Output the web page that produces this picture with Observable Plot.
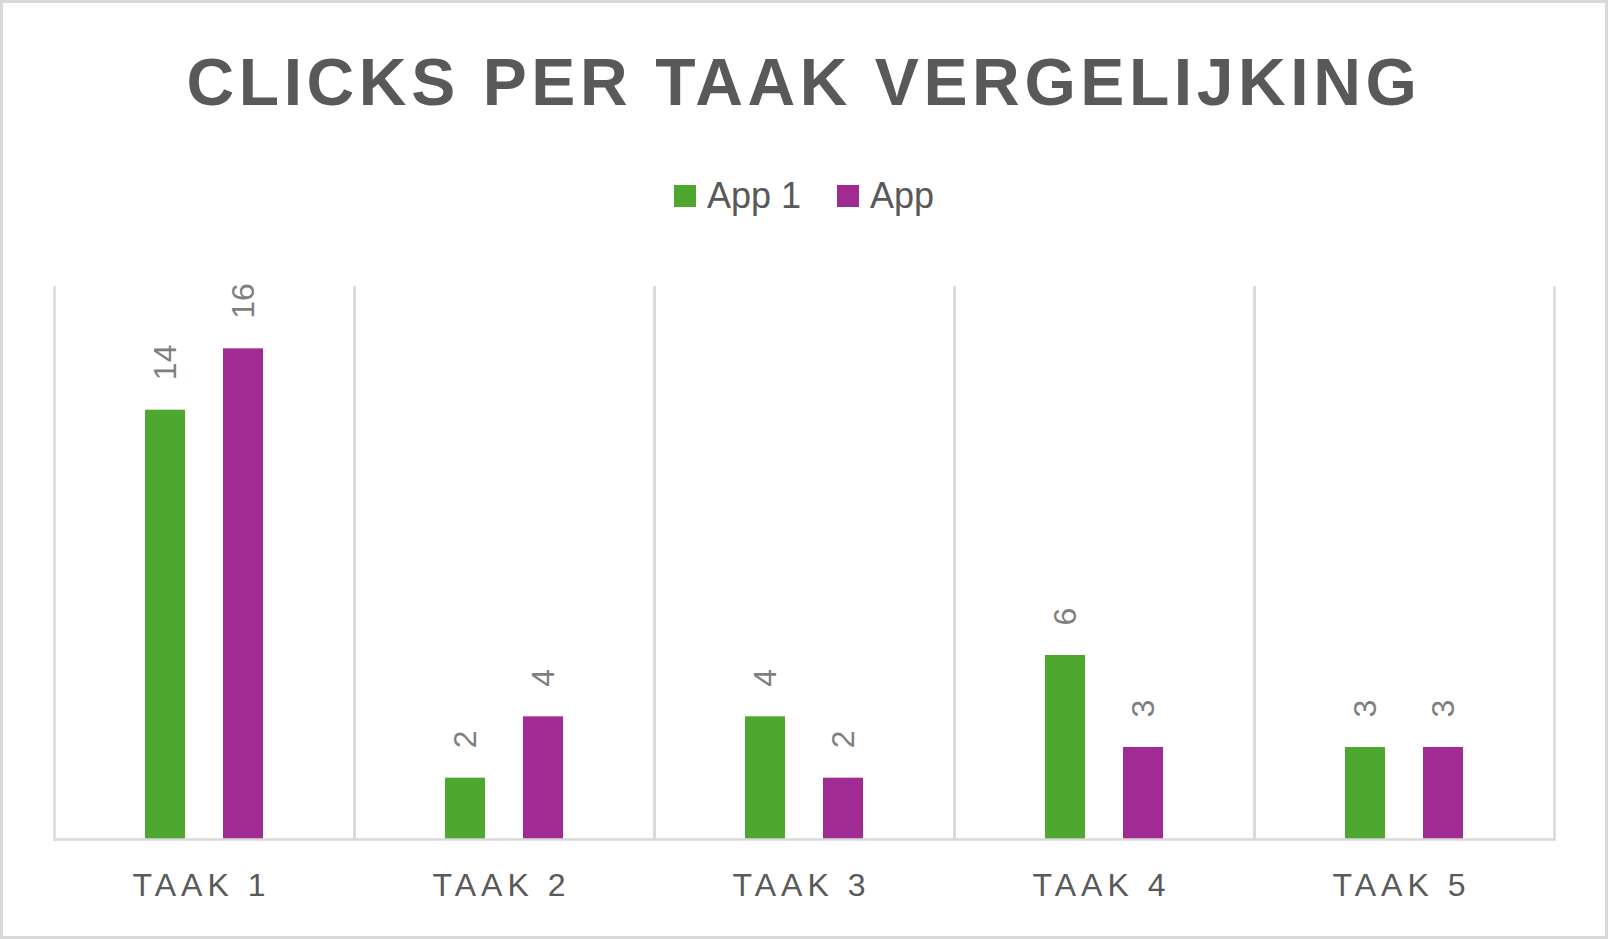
<!DOCTYPE html>
<html><head><meta charset="utf-8">
<script src="https://cdn.jsdelivr.net/npm/d3@7"></script>
<script src="https://cdn.jsdelivr.net/npm/@observablehq/plot@0.6"></script>
<style>
body{margin:0;background:#fff;}
#page{position:relative;width:1608px;height:939px;overflow:hidden;font-family:"Liberation Sans",Arial,sans-serif;background:#fff;}
#border{position:absolute;left:0;top:0;width:1608px;height:939px;box-sizing:border-box;border:3px solid #d9d9d9;pointer-events:none;}
#title{position:absolute;left:0;width:1608px;top:49px;text-align:center;font-size:66px;line-height:1;font-weight:bold;color:#595959;letter-spacing:4.6px;white-space:nowrap;}
#legend{position:absolute;left:0;width:1608px;top:178px;display:flex;justify-content:center;font-size:36px;line-height:36px;color:#595959;}
.item{display:flex;align-items:center;}
.item + .item{margin-left:36px;}
.sw{width:22px;height:22px;margin-right:11px;}
#chart{position:absolute;left:0;top:240px;}
</style></head>
<body>
<div id="page">
  <div id="title">CLICKS PER TAAK VERGELIJKING</div>
  <div id="legend"></div>
  <div id="chart"></div>
  <div id="border"></div>
</div>
<script>
const tasks = ["TAAK 1", "TAAK 2", "TAAK 3", "TAAK 4", "TAAK 5"];
const series = ["App 1", "App"];
const app1 = [14, 2, 4, 6, 3];
const app2 = [16, 4, 2, 3, 3];
const colors = ["#4ea72e", "#a02b93"];

const rows = tasks.flatMap((t, i) => [
  {task: t, app: series[0], value: app1[i]},
  {task: t, app: series[1], value: app2[i]}
]);

const legend = document.getElementById("legend");
series.forEach((s, i) => {
  const it = document.createElement("div");
  it.className = "item";
  const sw = document.createElement("div");
  sw.className = "sw";
  sw.style.background = colors[i];
  const tx = document.createElement("span");
  tx.textContent = s;
  it.appendChild(sw); it.appendChild(tx);
  legend.appendChild(it);
});

const grid = "#d9d9d9";
const chart = Plot.plot({
  width: 1608,
  height: 680,
  marginLeft: 52,
  marginRight: 52,
  marginTop: 47,
  marginBottom: 81,
  style: {fontFamily: "Liberation Sans, Arial, sans-serif", background: "transparent"},
  fx: {domain: tasks, padding: 0, axis: null, label: null},
  x: {domain: series, paddingInner: 0.481, paddingOuter: 1.144, axis: null},
  y: {domain: [0, 18], axis: null},
  color: {domain: series, range: colors},
  marks: [
    Plot.frame({anchor: "left", stroke: grid, strokeWidth: 2.5}),
    Plot.frame({anchor: "right", stroke: grid, strokeWidth: 2.5}),
    Plot.barY(rows, {fx: "task", x: "app", y: "value", fill: "app"}),
    Plot.text(rows, {fx: "task", x: "app", y: "value", text: d => String(d.value), rotate: -90, textAnchor: "start", dy: -30, fontSize: 32, fill: "#7f7f7f"}),
    Plot.ruleY([0], {stroke: grid, strokeWidth: 2.5}),
    Plot.axisFx({anchor: "bottom", tickSize: 0, tickPadding: 34, fontSize: 32, fill: "#595959", label: null, dx: -3})
  ]
});
document.getElementById("chart").appendChild(chart);
d3.select(chart).selectAll('[aria-label="fx-axis tick label"] text').style("letter-spacing", "5px");
</script>
</body></html>
